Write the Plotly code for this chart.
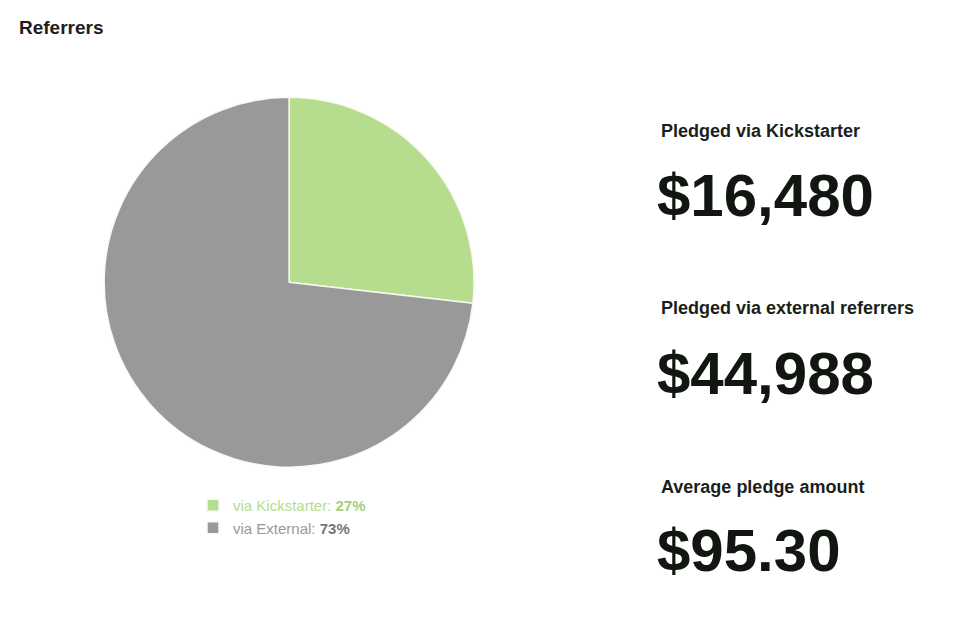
import plotly.graph_objects as go

labels = ["via Kickstarter", "via External"]
pledged = [16480, 44988]
percent_labels = ["27%", "73%"]
colors = ["#b6dc8e", "#999999"]
label_colors = ["#b6dc8e", "#999999"]
pct_colors = ["#a6cf7c", "#777777"]

stat_titles = ["Pledged via Kickstarter", "Pledged via external referrers", "Average pledge amount"]
stat_values = ["$16,480", "$44,988", "$95.30"]

legend_names = [
    f"<span style='color:{lc}'>{l}: </span><span style='color:{pc}'><b>{p}</b></span>"
    for l, p, lc, pc in zip(labels, percent_labels, label_colors, pct_colors)
]

fig = go.Figure()
fig.add_trace(go.Pie(
    labels=legend_names,
    values=pledged,
    marker=dict(colors=colors, line=dict(color="#f7faef", width=1.5)),
    sort=False,
    direction="clockwise",
    rotation=0,
    textinfo="none",
    hoverinfo="label+value",
    domain=dict(x=[0.106, 0.484], y=[0.27, 0.848]),
))

FONT = "Liberation Sans, Arial, Helvetica, sans-serif"

annotations = [
    dict(text="<b>Referrers</b>", x=17 / 980, y=1 - 27 / 640, xref="paper", yref="paper",
         xanchor="left", yanchor="middle", showarrow=False,
         font=dict(family=FONT, size=19, color="#1e1e1e")),
]

title_y = [131, 308, 487]
value_y = [195, 373, 550]
for t, v, ty, vy in zip(stat_titles, stat_values, title_y, value_y):
    annotations.append(dict(text=f"<b>{t}</b>", x=659 / 980, y=1 - ty / 640,
                            xref="paper", yref="paper", xanchor="left", yanchor="middle",
                            showarrow=False, font=dict(family=FONT, size=18, color="#1b1f1b")))
    annotations.append(dict(text=f"<b>{v}</b>", x=655 / 980, y=1 - vy / 640,
                            xref="paper", yref="paper", xanchor="left", yanchor="middle",
                            showarrow=False, font=dict(family=FONT, size=60, color="#111611")))

fig.update_layout(
    width=980, height=640,
    margin=dict(l=0, r=0, t=0, b=0),
    paper_bgcolor="#ffffff",
    plot_bgcolor="#ffffff",
    showlegend=True,
    legend=dict(x=193 / 980, y=1 - 489 / 640, xanchor="left", yanchor="top",
                font=dict(family=FONT, size=15, color="#999999"),
                itemwidth=30, tracegroupgap=0, bgcolor="rgba(0,0,0,0)"),
    annotations=annotations,
)

fig.write_html("out.html")
